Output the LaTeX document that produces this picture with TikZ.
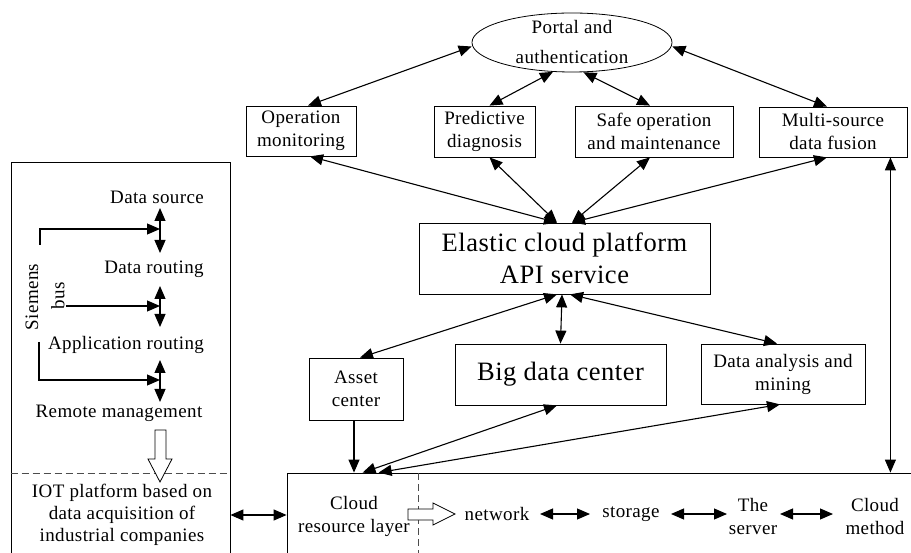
\documentclass[tikz,border=0pt]{standalone}
\usepackage{fontspec}
\setmainfont[LetterSpace=2]{Liberation Serif}
\usetikzlibrary{arrows.meta,calc,shapes.geometric}
\begin{document}
\begin{tikzpicture}[x=1pt,y=-1pt,
  lbl/.style={inner sep=0pt, font=\fontsize{19}{23}\selectfont, align=center},
  box/.style={draw, line width=0.8pt, inner sep=0pt, font=\fontsize{19}{23}\selectfont, align=center},
  bigbox/.style={box, font=\fontsize{26.5}{32}\selectfont},
  con/.style={line width=1.1pt, {Triangle[length=13pt,width=11pt]}-{Triangle[length=13pt,width=11pt]}},
  one/.style={line width=1.1pt, -{Triangle[length=13pt,width=11pt]}},
  hollow/.style={draw, line width=0.8pt, fill=white},
  dsh/.style={line width=0.8pt, black!70, dash pattern=on 7pt off 4pt},
]
\useasboundingbox (0,0) rectangle (911,553);
\clip (0,0) rectangle (911,553);

% top
\node[draw, line width=0.8pt, ellipse, minimum width=200pt, minimum height=59pt, inner sep=0pt] (ell) at (572,42.5) {};
\node[lbl, font=\fontsize{19}{30}\selectfont] (elltext) at (ell.center) {Portal and\\authentication};
\node[box, minimum width=110pt, minimum height=50pt] (op) at (301,131) {Operation\\monitoring};
\node[box, minimum width=101pt, minimum height=51pt] (pred) at (484.5,131.5) {Predictive\\diagnosis};
\node[box, minimum width=158pt, minimum height=51pt] (safe) at (654,131.5) {Safe operation\\and maintenance};
\node[box, minimum width=148pt, minimum height=50pt] (multi) at (833,132) {Multi-source\\data fusion};
\node[bigbox, minimum width=291pt, minimum height=71pt] (api) at (564.5,258.5) {Elastic cloud platform\\API service};
\node[box, minimum width=94pt, minimum height=62pt] (asset) at (356,389) {Asset\\center};
\node[bigbox, minimum width=211pt, minimum height=61pt] (big) at (560.5,374.5) {Big data center};
\node[box, minimum width=164pt, minimum height=60pt] (dam) at (783,374) {Data analysis and\\mining};

% containers
\node[draw, line width=0.8pt, minimum width=219pt, minimum height=408pt, inner sep=0pt] (leftbox) at (120.5,366) {};
\node[draw, line width=0.8pt, minimum width=643pt, minimum height=97pt, inner sep=0pt] (cloudbox) at (608.5,521.5) {};

% left box texts
\node[lbl] (ds) at (157,197) {Data source};
\node[lbl] (dr) at (154,269) {Data routing};
\node[lbl] (ar) at (126,345) {Application routing};
\node[lbl] (rm) at (119,413) {Remote management};
\node[lbl, font=\fontsize{19}{22}\selectfont] (iot) at (122,515) {IOT platform based on\\data acquisition of\\industrial companies};
\node[lbl, rotate=90] (siem) at (32,297) {Siemens};
\node[lbl, rotate=90] (bus) at (58,296) {bus};

% cloud row texts
\node[lbl] (crl) at (354,516.5) {Cloud\\resource layer};
\node[lbl] (net) at (497,514) {network};
\node[lbl] (sto) at (631,514) {storage};
\node[lbl] (srv) at (753,516.5) {The\\server};
\node[lbl] (cm) at (875,516.5) {Cloud\\method};

% connectors top
\draw[con] ($(ell.west)+(0,4)$) -- ($(op.north)+(7,0)$);
\draw[con] (ell.-123) -- ($(pred.north)+(5,0)$);
\draw[con] (ell.-69) -- ($(safe.north)+(-4,0)$);
\draw[con] ($(ell.east)+(0,4)$) -- ($(multi.north)+(-6,0)$);

\draw[con] ($(op.south)+(9,0)$) -- ($(api.north)+(-7.5,0)$);
\draw[con] ($(pred.south)+(5,0)$) -- ($(api.north)+(-7.5,0)$);
\draw[con] ($(safe.south)+(-4,0)$) -- ($(api.north)+(7.5,0)$);
\draw[con] ($(multi.south)+(-6,0)$) -- ($(api.north)+(7.5,0)$);

\draw[con] ($(api.south)+(-7.5,0)$) -- ($(asset.north)+(4,0)$);
\draw[con] ($(api.south)+(-2.5,0)$) -- (big.north);
\draw[con] ($(api.south)+(5.5,0)$) -- ($(dam.north)+(-6,0)$);

\draw[one] ($(asset.south)+(-2,0)$) -- ($(asset.south |- cloudbox.north)+(-2,0)$);
\draw[con] ($(big.south)+(-3.5,0)$) -- ($(cloudbox.north west)+(76,0)$);
\draw[con] ($(dam.south)+(-3,0)$) -- ($(cloudbox.north west)+(92,0)$);
\coordinate (mf) at ($(multi.south east)+(-17,0)$);
\draw[con] (mf) -- (mf |- cloudbox.north);

\draw[con] (leftbox.east |- iot) -- (cloudbox.west |- iot);

% cloud row arrows
\draw[con] ($(net.center)+(43,0)$) -- ($(sto.center)+(-41,0)$);
\draw[con] ($(sto.center)+(40,0)$) -- ($(sto.center)+(96,0)$);
\draw[con] ($(sto.center)+(149,0)$) -- ($(sto.center)+(202,0)$);

% left box arrows
\coordinate (v1a) at (160,208); \coordinate (v1b) at (160,253);
\coordinate (v2a) at (160,286); \coordinate (v2b) at (160,327);
\coordinate (v3a) at (160,360); \coordinate (v3b) at (160,402);
\draw[con] (v1a) -- (v1b);
\draw[con] (v2a) -- (v2b);
\draw[con] (v3a) -- (v3b);
\coordinate (s1) at (40,245); \coordinate (t1) at (160,229);
\draw[one] (s1) |- (t1);
\coordinate (s2) at (66,306); \coordinate (t2) at (160,306);
\draw[one] (s2) -- (t2);
\coordinate (s3) at (39,342); \coordinate (t3) at (160,380);
\draw[one] (s3) |- (t3);

% dashed separators
\coordinate (dl) at (leftbox.west |- 0,473);
\draw[dsh] (dl) -- (dl -| leftbox.east);
\coordinate (dv) at (418,473);
\draw[dsh] (dv) -- ++(0,90);

% hollow arrows
\draw[hollow] (155,430) -- (166,430) -- (166,459) -- (172,459) -- (160,482) -- (148,459) -- (155,459) -- cycle;
\draw[hollow] (408,509) -- (433,509) -- (433,503) -- (455,514) -- (433,525) -- (433,520) -- (408,520) -- cycle;
\end{tikzpicture}
\end{document}
